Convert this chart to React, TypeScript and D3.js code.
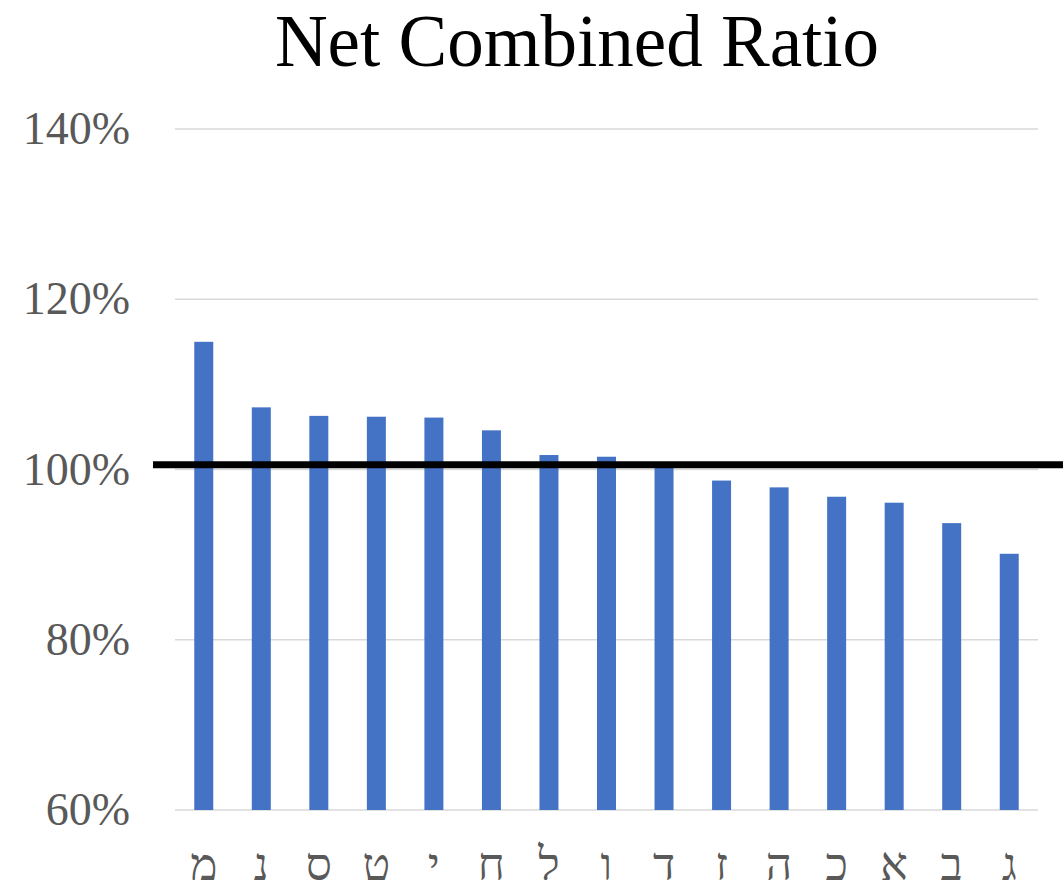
import * as d3 from "d3";

const categories = ["מ", "נ", "ס", "ט", "י", "ח", "ל", "ו", "ד", "ז", "ה", "כ", "א", "ב", "ג"];
const ratios = [115.0, 107.3, 106.3, 106.2, 106.1, 104.6, 101.7, 101.5, 100.7, 98.7, 97.9, 96.8, 96.1, 93.7, 90.1];
const yTicks = [60, 80, 100, 120, 140];
const benchmark = 100.55;

function App() {
  const width = 1063;
  const height = 889;
  const plot = { left: 175, right: 1038, top: 129, bottom: 810 };
  const font = "'Liberation Serif', 'Times New Roman', serif";

  const xScale = d3
    .scaleBand()
    .domain(categories)
    .range([plot.left, plot.right])
    .paddingInner(0.67)
    .paddingOuter(0.335);
  const yScale = d3.scaleLinear().domain([60, 140]).range([plot.bottom, plot.top]);

  return (
    <svg
      width={width}
      height={height}
      style={{ position: "absolute", left: 0, top: 0, background: "#fff" }}
    >
      <text
        x={577}
        y={66}
        textAnchor="middle"
        fontFamily={font}
        fontSize="73"
        fill="#000"
      >
        Net Combined Ratio
      </text>

      {yTicks.map((t) => (
        <g key={t}>
          <line
            x1={plot.left}
            x2={plot.right}
            y1={yScale(t)}
            y2={yScale(t)}
            stroke="#d9d9d9"
            strokeWidth="1.5"
          />
          <text
            x={130}
            y={yScale(t)}
            dy="0.33em"
            textAnchor="end"
            fontFamily={font}
            fontSize="46"
            fill="#595959"
          >
            {t}%
          </text>
        </g>
      ))}

      {categories.map((c, i) => (
        <rect
          key={c}
          x={xScale(c)}
          y={yScale(ratios[i])}
          width={xScale.bandwidth()}
          height={yScale(60) - yScale(ratios[i])}
          fill="#4472C4"
        />
      ))}

      {categories.map((c) => (
        <text
          key={c}
          x={(xScale(c) ?? 0) + xScale.bandwidth() / 2}
          y={880}
          textAnchor="middle"
          fontFamily={font}
          fontSize="46"
          fill="#595959"
        >
          {c}
        </text>
      ))}

      <line
        x1={153}
        x2={1063}
        y1={yScale(benchmark)}
        y2={yScale(benchmark)}
        stroke="#000"
        strokeWidth="7"
      />
    </svg>
  );
}

export default App;
